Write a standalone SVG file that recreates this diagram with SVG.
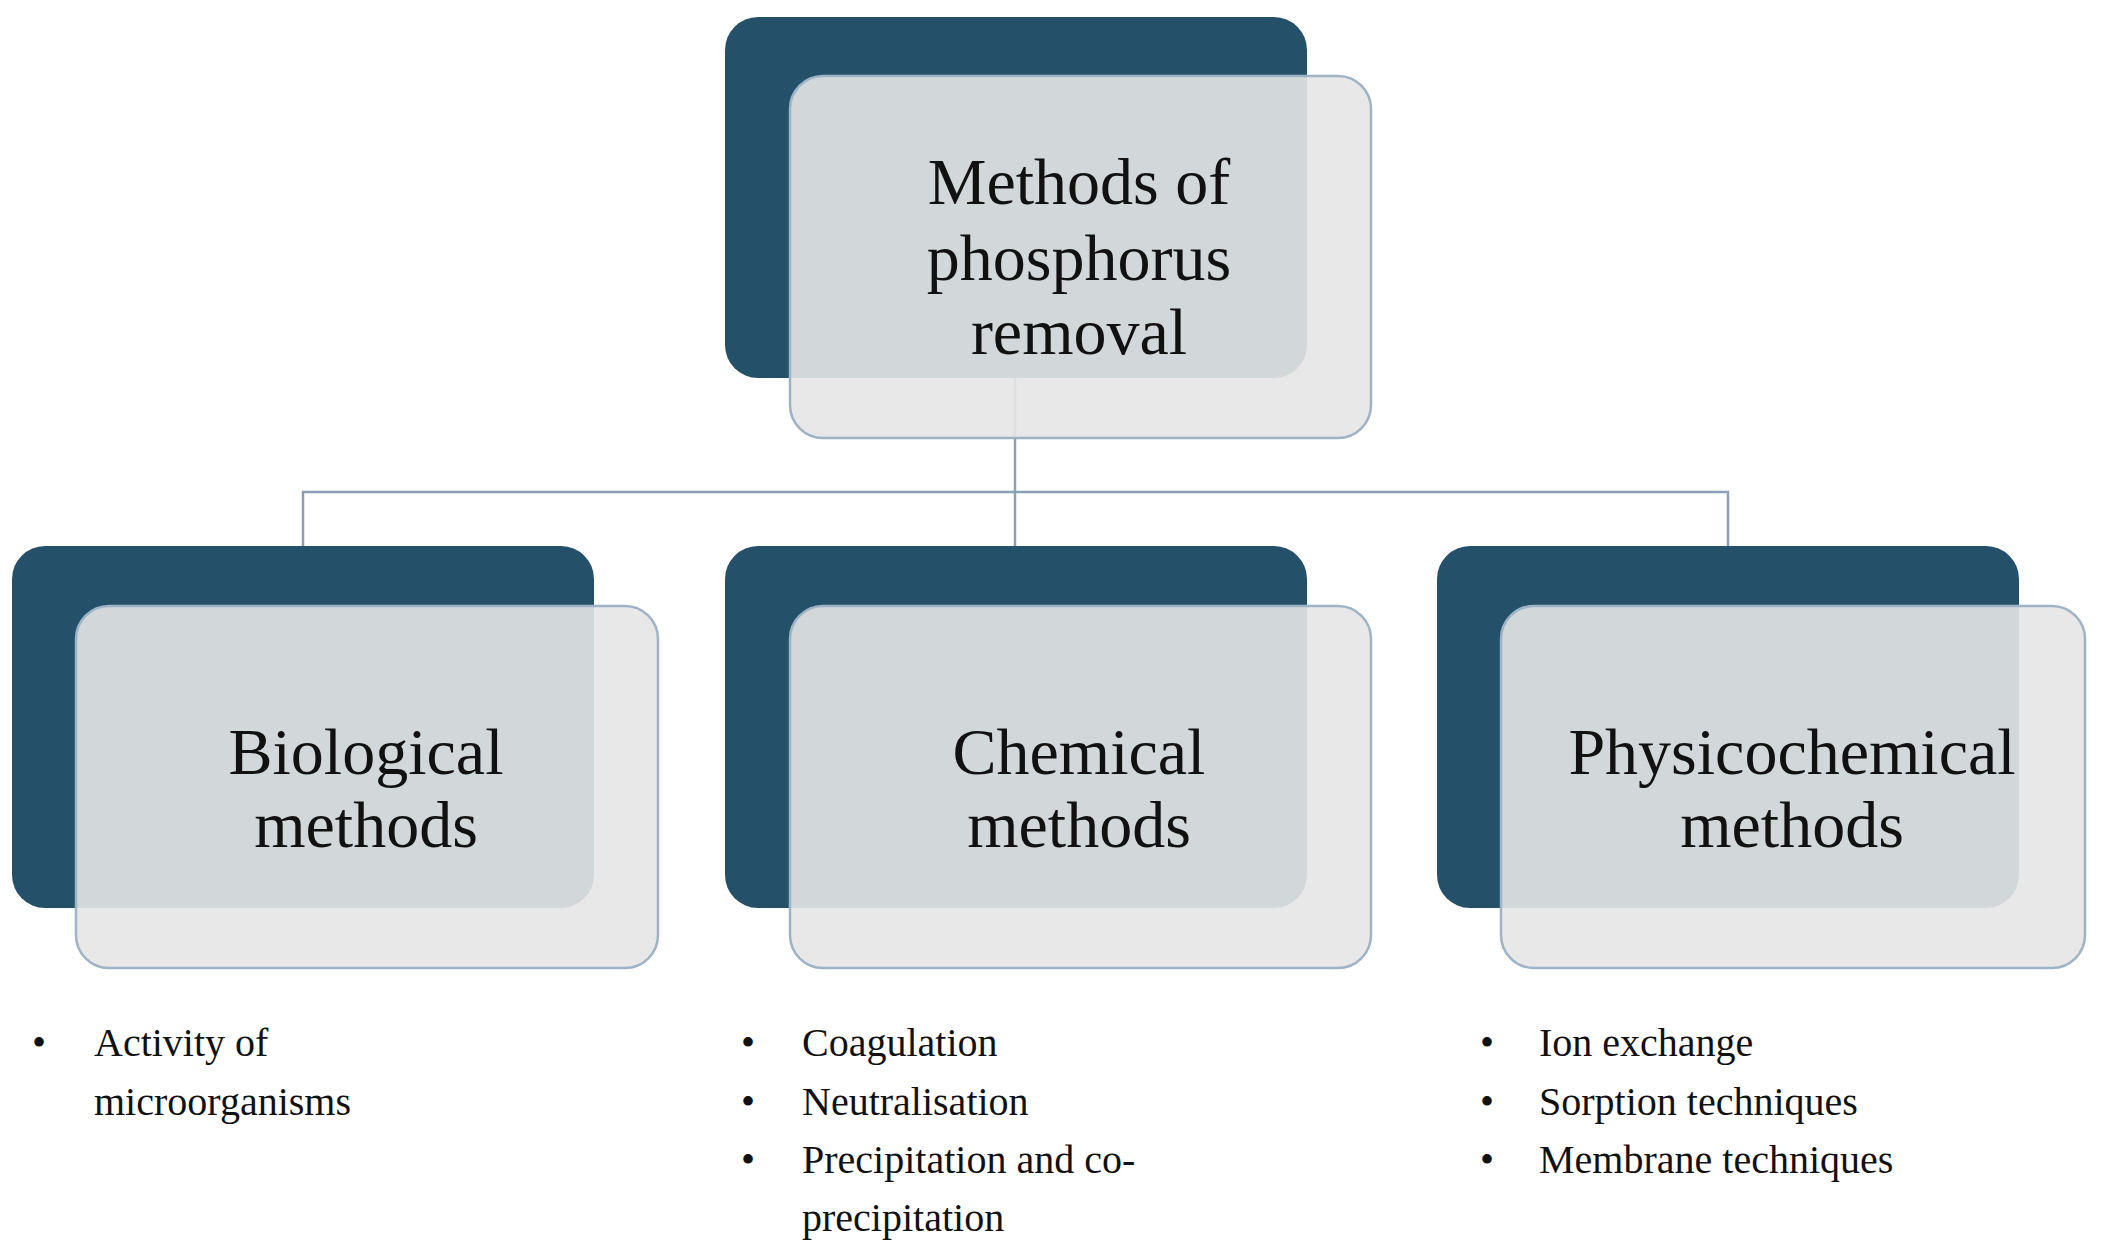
<svg xmlns="http://www.w3.org/2000/svg" width="2102" height="1259" viewBox="0 0 2102 1259">
<style>
.dk{fill:#245069}
.lt{fill:#e6e6e6;fill-opacity:0.9;stroke:#9fb3c6;stroke-width:2.5}
.t{font-family:"Liberation Serif",serif;font-size:66px;fill:#111;text-anchor:middle}
.b{font-family:"Liberation Serif",serif;font-size:40px;fill:#111}
.c{fill:none;stroke:#8aa0b4;stroke-width:2.5}
</style>
<rect width="2102" height="1259" fill="#fff"/>
<g id="connectors">
<path class="c" d="M1015 378V546M303 546V492H1728V546"/>
</g>
<g id="root">
<rect class="dk" x="725" y="17" width="582" height="361" rx="33"/>
<rect class="lt" x="790" y="76" width="581" height="362" rx="33"/>
<text class="t" x="1079" y="204">Methods of</text>
<text class="t" x="1079" y="280">phosphorus</text>
<text class="t" x="1079" y="354">removal</text>
</g>
<g id="bio">
<rect class="dk" x="12" y="546" width="582" height="362" rx="33"/>
<rect class="lt" x="76" y="606" width="582" height="362" rx="33"/>
<text class="t" x="366" y="774">Biological</text>
<text class="t" x="366" y="847">methods</text>
<text class="b" x="32" y="1056">•</text>
<text class="b" x="94" y="1056">Activity of</text>
<text class="b" x="94" y="1115">microorganisms</text>
</g>
<g id="chem">
<rect class="dk" x="725" y="546" width="582" height="362" rx="33"/>
<rect class="lt" x="790" y="606" width="581" height="362" rx="33"/>
<text class="t" x="1079" y="774">Chemical</text>
<text class="t" x="1079" y="847">methods</text>
<text class="b" x="741" y="1056">•</text><text class="b" x="802" y="1056">Coagulation</text>
<text class="b" x="741" y="1115">•</text><text class="b" x="802" y="1115">Neutralisation</text>
<text class="b" x="741" y="1173">•</text><text class="b" x="802" y="1173">Precipitation and co-</text>
<text class="b" x="802" y="1231">precipitation</text>
</g>
<g id="phys">
<rect class="dk" x="1437" y="546" width="582" height="362" rx="33"/>
<rect class="lt" x="1501" y="606" width="584" height="362" rx="33"/>
<text class="t" x="1792" y="774">Physicochemical</text>
<text class="t" x="1792" y="847">methods</text>
<text class="b" x="1480" y="1056">•</text><text class="b" x="1539" y="1056">Ion exchange</text>
<text class="b" x="1480" y="1115">•</text><text class="b" x="1539" y="1115">Sorption techniques</text>
<text class="b" x="1480" y="1173">•</text><text class="b" x="1539" y="1173">Membrane techniques</text>
</g>
</svg>
